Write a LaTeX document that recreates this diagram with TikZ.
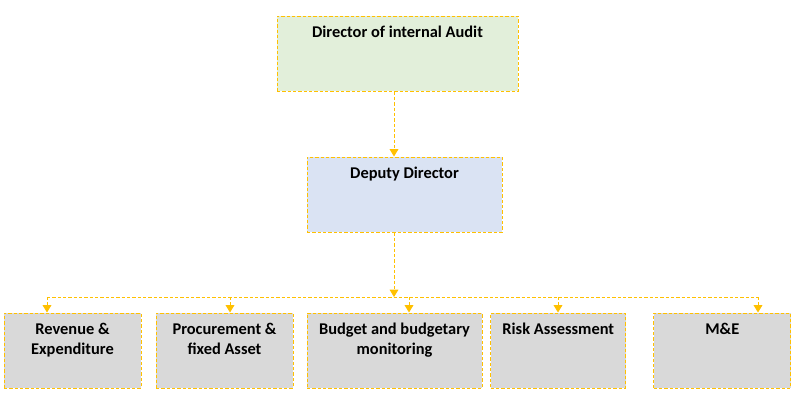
\documentclass[tikz,border=0pt]{standalone}
\usepackage{fontspec}
\setmainfont{Carlito}
\definecolor{auditgold}{RGB}{255,192,0}
\definecolor{auditgreen}{RGB}{226,239,218}
\definecolor{auditblue}{RGB}{218,227,243}
\definecolor{unitgray}{RGB}{217,217,217}
\usetikzlibrary{arrows.meta,positioning}

\begin{document}
\begin{tikzpicture}[x=0.75pt,y=-0.75pt]
  \tikzstyle{post}=[rectangle,draw=auditgold,line width=0.75pt,dash pattern=on 2.5pt off 1.5pt,minimum height=56.25pt,inner sep=0pt]
  \tikzstyle{caption}=[inner sep=0pt,anchor=north,yshift=-7.5pt,align=center,font=\bfseries\fontsize{12.3}{15}\selectfont]
  \tikzstyle{link}=[auditgold,line width=0.75pt,dash pattern=on 2.5pt off 1.5pt]
  \tikzstyle{tip}=[-{Triangle[width=6.5pt,length=5.5pt]}]
  \useasboundingbox (0,0) rectangle (795,397);
  % head and deputy
  \node[post,fill=auditgreen,minimum width=180.75pt,label={[caption]north:Director of internal Audit}] (dir) at (397.5,53.5) {};
  \node[post,fill=auditblue,minimum width=146.25pt,label={[caption]north:Deputy Director}] (dep) at (404.5,194.5) {};
  % units
  \node[post,fill=unitgray,minimum width=102.75pt,label={[caption]north:{Revenue \&\\Expenditure}}] (rev) at (72.5,350.5) {};
  \node[post,fill=unitgray,minimum width=102.75pt,label={[caption]north:{Procurement \&\\fixed Asset}}] (proc) at (224.5,350.5) {};
  \node[post,fill=unitgray,minimum width=131.25pt,label={[caption]north:{Budget and budgetary\\monitoring}}] (bud) at (394.5,350.5) {};
  \node[post,fill=unitgray,minimum width=101.25pt,label={[caption]north:Risk Assessment}] (risk) at (558.3,350.5) {};
  \node[post,fill=unitgray,minimum width=102.75pt,label={[caption]north:M\&E}] (me) at (722.3,350.5) {};
  % bus
  \coordinate (spine) at (394,297);
  \coordinate (d1) at (47,297);
  \coordinate (d2) at (230,297);
  \coordinate (d3) at (409,297);
  \coordinate (d4) at (558,297);
  \coordinate (d5) at (758,297);
  \draw[link,tip] (dir.south -| spine) -- (dep.north -| spine);
  \draw[link,tip] (dep.south -| spine) -- (spine);
  \draw[link] (d1) -- (d5);
  \draw[link,tip] (d1) -- (d1 |- rev.north);
  \draw[link,tip] (d2) -- (d2 |- proc.north);
  \draw[link,tip] (d3) -- (d3 |- bud.north);
  \draw[link,tip] (d4) -- (d4 |- risk.north);
  \draw[link,tip] (d5) -- (d5 |- me.north);
\end{tikzpicture}
\end{document}
